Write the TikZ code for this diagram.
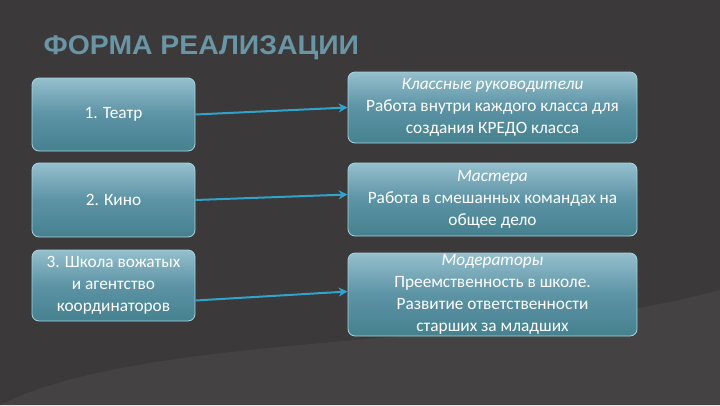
\documentclass[tikz,border=0pt]{standalone}
\usepackage{fontspec}
\setmainfont{Carlito}
\newfontfamily\titlefont{Liberation Sans}
\usetikzlibrary{arrows.meta}
\definecolor{bg}{HTML}{3B3939}
\definecolor{bgl}{HTML}{444242}
\definecolor{btop}{HTML}{95BFCD}
\definecolor{bmid}{HTML}{5C93A5}
\definecolor{bbot}{HTML}{46818F}
\definecolor{bbord}{HTML}{A9D4E0}
\definecolor{arrc}{HTML}{2FA3CC}
\definecolor{titc}{HTML}{6A95A4}
\begin{document}
\begin{tikzpicture}[x=1pt,y=-1pt,
  box/.style={draw=bbord,line width=0.8pt,rounded corners=7pt,top color=btop,bottom color=bbot,middle color=bmid,text=white,align=center,font=\fontsize{17.3}{22}\selectfont,inner sep=1pt},
  arr/.style={draw=arrc,line width=2pt,-{Stealth[length=9pt,width=9pt]}}]
\fill[bg] (0,0) rectangle (720,405);
\fill[bgl] (0,405) .. controls (150,330) and (500,350) .. (720,290) -- (720,405) -- cycle;
\useasboundingbox (0,0) rectangle (720,405);
\node[anchor=west,font=\titlefont\bfseries\fontsize{27}{30}\selectfont,text=titc,xscale=1.05] (t) at (40,48) {ФОРМА РЕАЛИЗАЦИИ};
\node[box,minimum width=163pt,minimum height=73pt] (a) at (113.5,114.5) {1. Театр};
\node[box,minimum width=163pt,minimum height=74pt] (b) at (113.5,200) {2. Кино};
\node[box,minimum width=163pt,minimum height=71pt] (c) at (113.5,285.5) {3. Школа вожатых\\и агентство\\координаторов};
\node[box,minimum width=289pt,minimum height=71pt] (d) at (492.5,107.5) {\itshape Классные руководители\\Работа внутри каждого класса для\\создания КРЕДО класса};
\node[box,minimum width=289pt,minimum height=73pt] (e) at (492.5,199.5) {\itshape Мастера\\Работа в смешанных командах на\\общее дело};
\node[box,minimum width=289pt,minimum height=83pt] (f) at (492.5,294.5) {\itshape Модераторы\\Преемственность в школе.\\Развитие ответственности\\старших за младших};
\draw[arr] (a.east) -- (d.west);
\draw[arr] (b.east) -- ([yshift=5pt]e.west);
\draw[arr] ([yshift=-15pt]c.east) -- ([yshift=3pt]f.west);
\end{tikzpicture}
\end{document}
